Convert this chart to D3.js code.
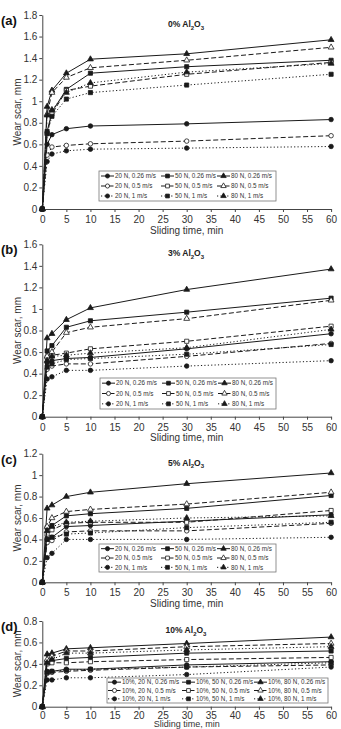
<!DOCTYPE html>
<html>
<head>
<meta charset="utf-8">
<script src="https://cdn.jsdelivr.net/npm/d3@7"></script>
<style>
body { margin: 0; background: #fff; }
svg { display: block; font-family: "Liberation Sans", Arial, sans-serif; }
</style>
</head>
<body>
<svg id="chart" width="341" height="729"></svg>
<script>
// sliding times, min
var times = [0, 1, 2, 5, 10, 30, 60];
var xTicks = [0, 5, 10, 15, 20, 25, 30, 35, 40, 45, 50, 55, 60];

// legend order: row = speed, column = load
var loads = ["20 N", "50 N", "80 N"];
var speeds = ["0.26 m/s", "0.5 m/s", "1 m/s"];

// wear scar (mm), series order: 20N/50N/80N at 0.26, then 0.5, then 1 m/s
var wear0 = [
  [0, 0.60, 0.69, 0.745, 0.77, 0.79, 0.83],
  [0, 0.72, 0.90, 1.11, 1.26, 1.32, 1.38],
  [0, 0.95, 1.10, 1.26, 1.39, 1.44, 1.57],
  [0, 0.50, 0.575, 0.59, 0.605, 0.63, 0.68],
  [0, 0.70, 0.88, 1.10, 1.14, 1.25, 1.36],
  [0, 0.88, 1.08, 1.22, 1.31, 1.38, 1.50],
  [0, 0.44, 0.51, 0.54, 0.555, 0.565, 0.58],
  [0, 0.70, 0.86, 1.02, 1.08, 1.15, 1.25],
  [0, 0.87, 0.92, 1.08, 1.17, 1.27, 1.35]
];
var wear3 = [
  [0, 0.50, 0.52, 0.54, 0.55, 0.63, 0.77],
  [0, 0.61, 0.66, 0.83, 0.89, 0.97, 1.10],
  [0, 0.73, 0.77, 0.90, 1.01, 1.18, 1.37],
  [0, 0.44, 0.47, 0.49, 0.49, 0.56, 0.68],
  [0, 0.55, 0.57, 0.59, 0.63, 0.70, 0.84],
  [0, 0.56, 0.60, 0.78, 0.83, 0.91, 1.08],
  [0, 0.35, 0.37, 0.43, 0.43, 0.47, 0.52],
  [0, 0.46, 0.49, 0.53, 0.54, 0.58, 0.67],
  [0, 0.52, 0.56, 0.57, 0.59, 0.64, 0.81]
];
var wear5 = [
  [0, 0.40, 0.42, 0.52, 0.53, 0.57, 0.63],
  [0, 0.51, 0.53, 0.62, 0.64, 0.69, 0.81],
  [0, 0.69, 0.72, 0.80, 0.84, 0.92, 1.02],
  [0, 0.37, 0.39, 0.47, 0.48, 0.48, 0.55],
  [0, 0.45, 0.49, 0.55, 0.56, 0.56, 0.67],
  [0, 0.52, 0.60, 0.66, 0.68, 0.73, 0.84],
  [0, 0.23, 0.27, 0.40, 0.40, 0.40, 0.42],
  [0, 0.40, 0.42, 0.45, 0.46, 0.51, 0.56],
  [0, 0.48, 0.52, 0.56, 0.57, 0.60, 0.62]
];
var wear10 = [
  [0, 0.33, 0.33, 0.35, 0.35, 0.39, 0.42],
  [0, 0.42, 0.43, 0.45, 0.46, 0.50, 0.52],
  [0, 0.49, 0.50, 0.54, 0.55, 0.59, 0.65],
  [0, 0.31, 0.32, 0.33, 0.34, 0.37, 0.39],
  [0, 0.40, 0.41, 0.41, 0.42, 0.44, 0.46],
  [0, 0.44, 0.47, 0.52, 0.52, 0.56, 0.59],
  [0, 0.25, 0.25, 0.27, 0.27, 0.30, 0.37],
  [0, 0.32, 0.33, 0.34, 0.35, 0.37, 0.41],
  [0, 0.41, 0.44, 0.50, 0.50, 0.53, 0.56]
];

// panel layout (pixels) kept apart from the data
var panels = [
  { tag: "(a)", pct: "0%", data: wear0, yMax: 1.8, top: 15, bottom: 209, titleDy: 24.5, titleFs: 10, pad: 4,
    leg: { x: 99, y: 171, w: 177, h: 30, cols: [101, 161, 217] }, prefix: "" },
  { tag: "(b)", pct: "3%", data: wear3, yMax: 1.6, top: 244.3, bottom: 416.7, titleDy: 24.5, titleFs: 10, pad: 4,
    leg: { x: 100, y: 378, w: 176, h: 31, cols: [102, 162, 218] }, prefix: "" },
  { tag: "(c)", pct: "5%", data: wear5, yMax: 1.2, top: 453.7, bottom: 582.3, titleDy: 24.5, titleFs: 10, pad: 4,
    leg: { x: 99, y: 544, w: 177, h: 28, cols: [101, 161, 217] }, prefix: "" },
  { tag: "(d)", pct: "10%", data: wear10, yMax: 0.8, top: 621, bottom: 706.7, titleDy: 20.3, titleFs: 9, pad: 2,
    leg: { x: 107, y: 678, w: 221, h: 25, cols: [108, 182, 254] }, prefix: "10%, " }
];

var left = 42.3, right = 331.1;
var ink = "#1a1a1a", txt = "#333";
var svg = d3.select("#chart");

var x = d3.scaleLinear().domain([0, 60]).range([left, right]);

function dashFor(speed) {
  if (speed == 1) return "5,2.5";
  if (speed == 2) return "1.2,2.2";
  return null;
}

// draw one marker of given load/speed at (cx, cy)
function marker(g, load, speed, cx, cy, scale) {
  var s = scale || 1;
  var fill = speed == 1 ? "#fff" : ink;
  var sym;
  if (load == 0) sym = d3.symbol().type(d3.symbolCircle).size(16 * s);
  else if (load == 1) sym = d3.symbol().type(d3.symbolSquare).size(17 * s);
  else sym = d3.symbol().type(d3.symbolTriangle).size(15 * s);
  g.append("path")
    .attr("d", sym())
    .attr("transform", "translate(" + cx + "," + cy + ")")
    .attr("fill", fill)
    .attr("stroke", ink)
    .attr("stroke-width", 0.8);
}

panels.forEach(function(p) {
  var y = d3.scaleLinear().domain([0, p.yMax]).range([p.bottom, p.top]);
  var g = svg.append("g");

  // axes
  var yAxis = d3.axisLeft(y)
    .tickValues(d3.range(0, p.yMax + 0.001, 0.2))
    .tickFormat(function(d) { return d3.format("~g")(+d.toFixed(1)); })
    .tickSize(3).tickSizeOuter(0).tickPadding(2);
  var ya = g.append("g").attr("transform", "translate(" + left + ",0)").call(yAxis);

  var xAxis = d3.axisBottom(x).tickValues(xTicks)
    .tickSize(3).tickSizeOuter(0).tickPadding(p.pad);
  var xa = g.append("g").attr("transform", "translate(0," + p.bottom + ")").call(xAxis);

  [ya, xa].forEach(function(a) {
    a.selectAll("path, line").attr("stroke", "#444").attr("stroke-width", 1);
    a.selectAll("text").attr("fill", txt).style("font-size", "10px");
  });

  g.append("text")
    .attr("x", (left + right) / 2).attr("y", p.bottom + p.titleDy)
    .attr("text-anchor", "middle").attr("fill", txt)
    .style("font-size", p.titleFs + "px").text("Sliding time, min");

  g.append("text")
    .attr("transform", "translate(21," + ((p.top + p.bottom) / 2) + ") rotate(-90)")
    .attr("text-anchor", "middle").attr("fill", txt)
    .style("font-size", "10px").text("Wear scar, mm");

  g.append("text")
    .attr("x", 1).attr("y", p.top + 10)
    .attr("font-weight", "bold").style("font-size", "13px").attr("fill", "#111")
    .text(p.tag);

  // panel title with subscripts
  var t = g.append("text")
    .attr("x", 186).attr("y", p.top + 12)
    .attr("text-anchor", "middle").attr("font-weight", "bold")
    .style("font-size", "8.5px").attr("fill", "#222");
  t.append("tspan").text(p.pct + " Al");
  t.append("tspan").attr("dy", 2.5).style("font-size", "6px").text("2");
  t.append("tspan").attr("dy", -2.5).text("O");
  t.append("tspan").attr("dy", 2.5).style("font-size", "6px").text("3");

  // series
  var line = d3.line()
    .x(function(d, i) { return x(times[i]); })
    .y(function(d) { return y(d); });

  p.data.forEach(function(vals, k) {
    var load = k % 3, speed = Math.floor(k / 3);
    g.append("path")
      .datum(vals)
      .attr("d", line)
      .attr("fill", "none")
      .attr("stroke", ink)
      .attr("stroke-width", 1)
      .attr("stroke-dasharray", dashFor(speed));
    vals.forEach(function(v, i) {
      marker(g, load, speed, x(times[i]), y(v));
    });
  });

  // legend
  var L = p.leg;
  g.append("rect")
    .attr("x", L.x).attr("y", L.y).attr("width", L.w).attr("height", L.h)
    .attr("fill", "#fff").attr("stroke", "#777").attr("stroke-width", 0.8);
  var rowH = L.h / 3;
  speeds.forEach(function(s, r) {
    loads.forEach(function(ld, c) {
      var lx = L.cols[c], ly = L.y + rowH * (r + 0.5);
      g.append("line")
        .attr("x1", lx).attr("x2", lx + 13).attr("y1", ly).attr("y2", ly)
        .attr("stroke", ink).attr("stroke-width", 1)
        .attr("stroke-dasharray", dashFor(r));
      marker(g, c, r, lx + 6.5, ly, 0.85);
      g.append("text")
        .attr("x", lx + 14).attr("y", ly + 2.3)
        .attr("fill", txt).style("font-size", "6.3px")
        .text(p.prefix + ld + ", " + s);
    });
  });
});
</script>
</body>
</html>
